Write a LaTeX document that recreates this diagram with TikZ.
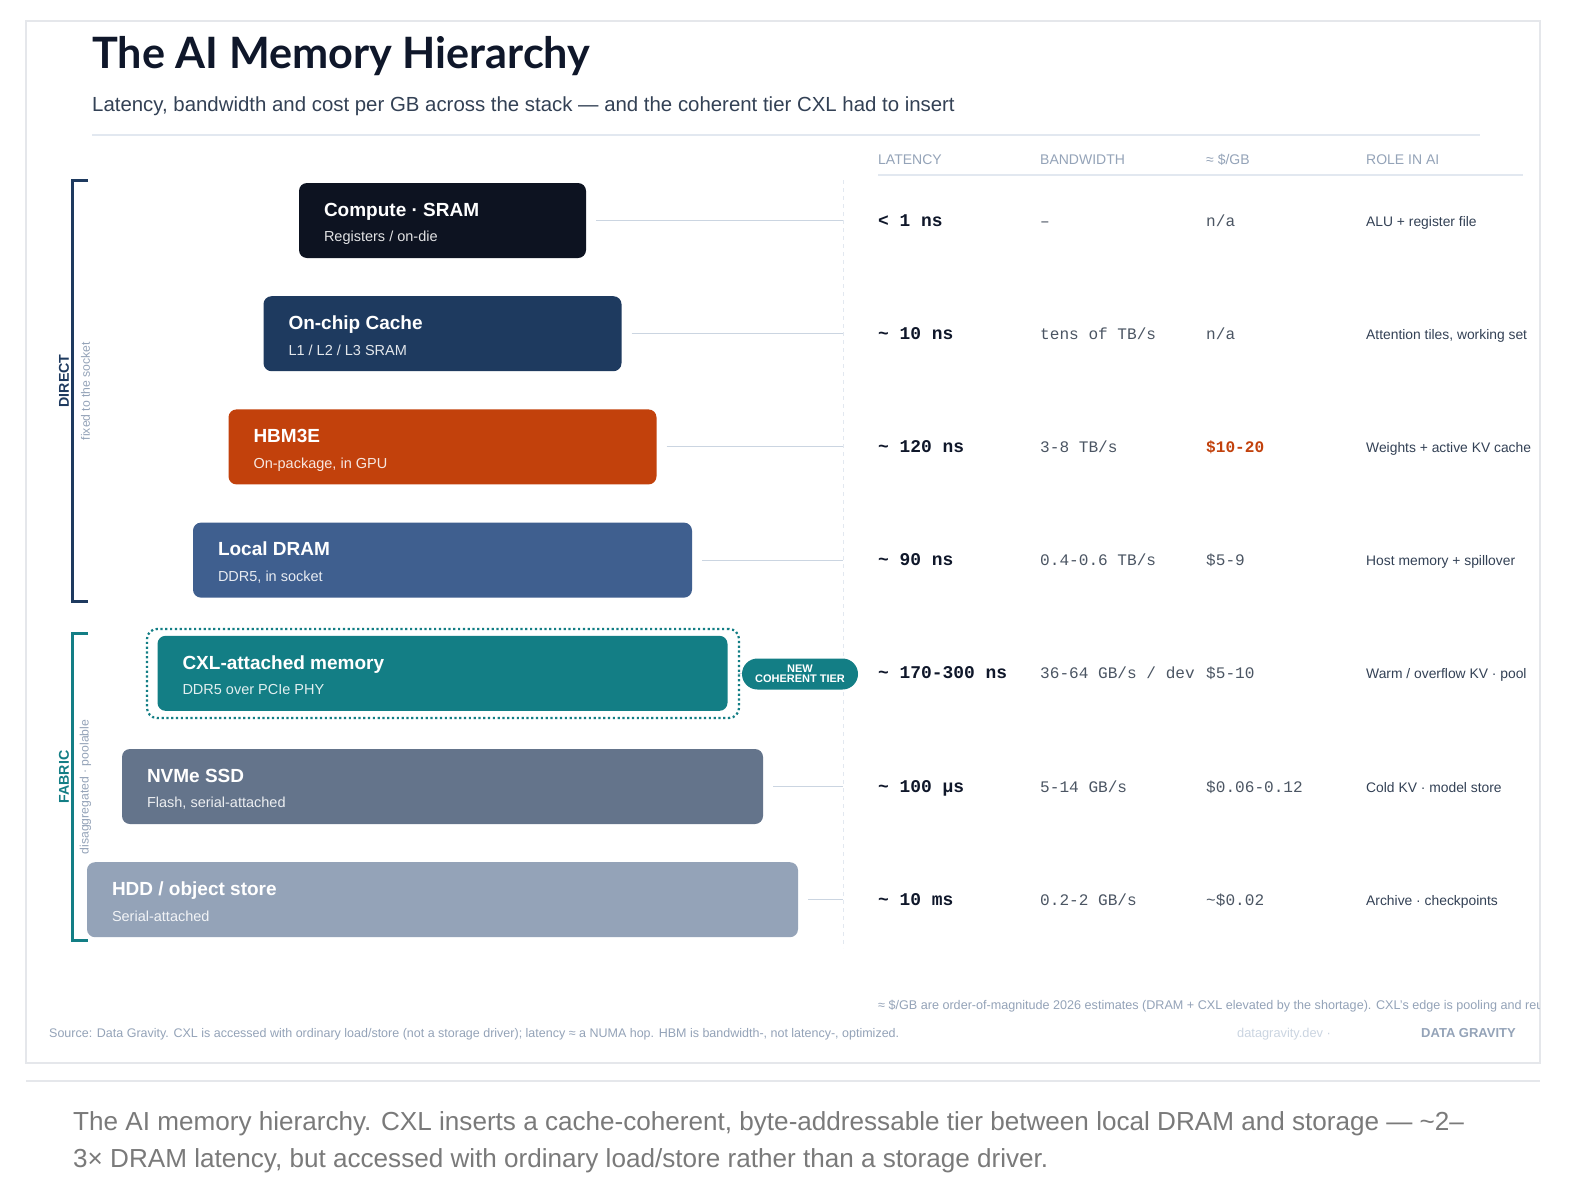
\documentclass[tikz,border=0pt]{standalone}
\usepackage{fontspec}
\setmainfont{Liberation Sans}
\setmonofont{Liberation Mono}
\newfontfamily\latofont{Lato}
\definecolor{cCompute}{HTML}{0D1321}
\definecolor{cCache}{HTML}{1E3A5F}
\definecolor{cHBM}{HTML}{C2410C}
\definecolor{cDRAM}{HTML}{3F5F8F}
\definecolor{cCXL}{HTML}{137E85}
\definecolor{cNVMe}{HTML}{64748B}
\definecolor{cHDD}{HTML}{94A3B8}
\definecolor{ink}{HTML}{0F172A}
\definecolor{slate}{HTML}{334155}
\definecolor{mid}{HTML}{4B5563}
\definecolor{muted}{HTML}{94A3B8}
\definecolor{faint}{HTML}{CBD5E1}
\definecolor{rule}{HTML}{E2E8F0}
\definecolor{card}{HTML}{E5E7EB}
\definecolor{capgray}{HTML}{7A7A7A}
\tikzset{
  tier/.style={rounded corners=8pt, minimum height=75pt, inner sep=0pt, draw=none},
  ttl/.style={anchor=base west, inner sep=0pt, text=white, font=\fontsize{19}{22}\selectfont\bfseries},
  sub/.style={anchor=base west, inner sep=0pt, text=white, text opacity=.88, font=\fontsize{14.5}{17}\selectfont},
  leader/.style={draw=faint, line width=1pt},
  hdr/.style={anchor=mid west, inner sep=0pt, text=muted, font=\fontsize{14}{16}\selectfont},
  lat/.style={anchor=mid west, inner sep=0pt, text=ink, font=\ttfamily\bfseries\fontsize{17.9}{20}\selectfont},
  bw/.style={anchor=mid west, inner sep=0pt, text=mid, font=\ttfamily\fontsize{16.1}{18}\selectfont},
  role/.style={anchor=mid west, inner sep=0pt, text=slate, font=\fontsize{13.85}{16}\selectfont},
  grp/.style={rotate=90, inner sep=0pt, font=\fontsize{14.2}{16}\selectfont\bfseries},
  grpsub/.style={rotate=90, inner sep=0pt, text=muted, font=\fontsize{12.2}{14}\selectfont},
  bracket/.style={line width=3pt},
  foot/.style={inner sep=0pt, text=muted, font=\fontsize{12.5}{14}\selectfont},
}
\begin{document}
\begin{tikzpicture}[x=1pt,y=-1pt]
\useasboundingbox[fill=white] (0,0) rectangle (1572,1194);
\draw[card, line width=1.5pt] (26,21) rectangle (1540,1063);

% title
\node[anchor=base west, inner sep=0pt, text=ink, font=\latofont\bfseries\fontsize{43.2}{48}\selectfont] (title) at (92,68) {The AI Memory Hierarchy};
\node[anchor=base west, inner sep=0pt, text=slate, font=\fontsize{20.4}{23}\selectfont] (subtitle) at (92,111) {Latency, bandwidth and cost per GB across the stack — and the coherent tier CXL had to insert};
\draw[rule, line width=1.5pt] (92,135) -- (1480,135);

% table header
\node[hdr] (hLat) at (878,162) {LATENCY};
\node[hdr] (hBw) at (1040,162) {BANDWIDTH};
\node[hdr] (hCost) at (1206,162) {≈ \$/GB};
\node[hdr] (hRole) at (1366,162) {ROLE IN AI};
\draw[rule, line width=1.5pt] (878,175) -- (1523,175);

% vertical dashed guide
\coordinate (vtop) at (843,180);
\coordinate (vbot) at (843,948);
\draw[rule, dashed, dash pattern=on 4pt off 4pt, line width=1pt] (vtop) -- (vbot);

% tiers
\node[tier, fill=cCompute, minimum width=287pt] (t1) at (442.5,220.5) {};
\node[tier, fill=cCache,   minimum width=358pt] (t2) at (442.5,333.7) {};
\node[tier, fill=cHBM,     minimum width=428pt] (t3) at (442.5,446.9) {};
\node[tier, fill=cDRAM,    minimum width=499pt] (t4) at (442.5,560.1) {};
\node[tier, fill=cCXL,     minimum width=570pt] (t5) at (442.5,673.3) {};
\node[tier, fill=cNVMe,    minimum width=641pt] (t6) at (442.5,786.5) {};
\node[tier, fill=cHDD,     minimum width=711pt] (t7) at (442.5,899.7) {};

\node[ttl] (t1a) at ([xshift=25pt,yshift=-33.5pt]t1.north west) {Compute · SRAM};
\node[sub] (t1b) at ([xshift=25pt,yshift=-59pt]t1.north west) {Registers / on-die};
\node[ttl] (t2a) at ([xshift=25pt,yshift=-33.5pt]t2.north west) {On-chip Cache};
\node[sub] (t2b) at ([xshift=25pt,yshift=-59pt]t2.north west) {L1 / L2 / L3 SRAM};
\node[ttl] (t3a) at ([xshift=25pt,yshift=-33.5pt]t3.north west) {HBM3E};
\node[sub] (t3b) at ([xshift=25pt,yshift=-59pt]t3.north west) {On-package, in GPU};
\node[ttl] (t4a) at ([xshift=25pt,yshift=-33.5pt]t4.north west) {Local DRAM};
\node[sub] (t4b) at ([xshift=25pt,yshift=-59pt]t4.north west) {DDR5, in socket};
\node[ttl] (t5a) at ([xshift=25pt,yshift=-33.5pt]t5.north west) {CXL-attached memory};
\node[sub] (t5b) at ([xshift=25pt,yshift=-59pt]t5.north west) {DDR5 over PCIe PHY};
\node[ttl] (t6a) at ([xshift=25pt,yshift=-33.5pt]t6.north west) {NVMe SSD};
\node[sub] (t6b) at ([xshift=25pt,yshift=-59pt]t6.north west) {Flash, serial-attached};
\node[ttl] (t7a) at ([xshift=25pt,yshift=-33.5pt]t7.north west) {HDD / object store};
\node[sub] (t7b) at ([xshift=25pt,yshift=-59pt]t7.north west) {Serial-attached};

% CXL dotted frame
\node[draw=cCXL, line width=2.2pt, dash pattern=on 2.2pt off 2.6pt, rounded corners=10pt, minimum width=592pt, minimum height=89pt, inner sep=0pt] (cxlframe) at (443,673.5) {};

% leaders
\foreach \t in {t1,t2,t3,t4,t5,t6,t7}{
  \draw[leader] ([xshift=10pt]\t.east) -- (\t.east -| vtop);
}

% badge
\node[fill=cCXL, text=white, rounded corners=15.5pt, minimum width=116pt, minimum height=31pt, inner sep=0pt, align=center, font=\fontsize{11}{10}\selectfont\bfseries] (badge) at (800,674) {NEW\\COHERENT TIER};

% table rows
\node[lat] (l1) at (878,223.5) {< 1 ns};
\node[lat] (l2) at (878,336.7) {\textasciitilde{} 10 ns};
\node[lat] (l3) at (878,449.9) {\textasciitilde{} 120 ns};
\node[lat] (l4) at (878,563.1) {\textasciitilde{} 90 ns};
\node[lat] (l5) at (878,676.3) {\textasciitilde{} 170-300 ns};
\node[lat] (l6) at (878,789.5) {\textasciitilde{} 100 μs};
\node[lat] (l7) at (878,902.7) {\textasciitilde{} 10 ms};

\node[bw] (b1) at (1040,223.5) {–};
\node[bw] (b2) at (1040,336.7) {tens of TB/s};
\node[bw] (b3) at (1040,449.9) {3-8 TB/s};
\node[bw] (b4) at (1040,563.1) {0.4-0.6 TB/s};
\node[bw] (b5) at (1040,676.3) {36-64 GB/s / dev};
\node[bw] (b6) at (1040,789.5) {5-14 GB/s};
\node[bw] (b7) at (1040,902.7) {0.2-2 GB/s};

\node[bw] (c1) at (1206,223.5) {n/a};
\node[bw] (c2) at (1206,336.7) {n/a};
\node[bw, text=cHBM, font=\ttfamily\bfseries\fontsize{16.1}{18}\selectfont] (c3) at (1206,449.9) {\$10-20};
\node[bw] (c4) at (1206,563.1) {\$5-9};
\node[bw] (c5) at (1206,676.3) {\$5-10};
\node[bw] (c6) at (1206,789.5) {\$0.06-0.12};
\node[bw] (c7) at (1206,902.7) {\textasciitilde\$0.02};

\node[role] (r1) at (1366,223.5) {ALU + register file};
\node[role] (r2) at (1366,336.7) {Attention tiles, working set};
\node[role] (r3) at (1366,449.9) {Weights + active KV cache};
\node[role] (r4) at (1366,563.1) {Host memory + spillover};
\node[role] (r5) at (1366,676.3) {Warm / overflow KV · pool};
\node[role] (r6) at (1366,789.5) {Cold KV · model store};
\node[role] (r7) at (1366,902.7) {Archive · checkpoints};

% brackets
\draw[bracket, draw=cCache] (88,180) -- (72,180) -- (72,601) -- (88,601);
\draw[bracket, draw=cCXL] (88,633) -- (72,633) -- (72,940) -- (88,940);
\node[grp, text=cCache] (gDirect) at (64,381) {DIRECT};
\node[grpsub] (gDirectSub) at (85.5,391) {fixed to the socket};
\node[grp, text=cCXL] (gFabric) at (64,777) {FABRIC};
\node[grpsub] (gFabricSub) at (85.5,787) {disaggregated · poolable};

% footer
\begin{scope}
\clip (26,21) rectangle (1539,1063);
\node[foot, anchor=mid west, font=\fontsize{12.6}{14}\selectfont] (note) at (878,1007) {≈ \$/GB are order-of-magnitude 2026 estimates (DRAM + CXL elevated by the shortage). CXL's edge is pooling and reuse};
\end{scope}
\node[foot, anchor=mid west] (source) at (49,1035) {Source: Data Gravity. CXL is accessed with ordinary load/store (not a storage driver); latency ≈ a NUMA hop. HBM is bandwidth-, not latency-, optimized.};
\node[foot, anchor=mid west, text=faint, font=\fontsize{12.8}{14}\selectfont] (site) at (1237,1035) {datagravity.dev ·};
\node[foot, anchor=mid east, font=\fontsize{13}{15}\selectfont\bfseries] (brand) at (1516,1035) {DATA GRAVITY};

% caption
\draw[draw=card, line width=2.5pt] (26,1081) -- (1540,1081);
\node[anchor=base west, inner sep=0pt, text=capgray, font=\fontsize{26.1}{37}\selectfont] (cap1) at (73,1130) {The AI memory hierarchy. CXL inserts a cache-coherent, byte-addressable tier between local DRAM and storage — \textasciitilde2–};
\node[anchor=base west, inner sep=0pt, text=capgray, font=\fontsize{26.1}{37}\selectfont] (cap2) at (73,1167) {3× DRAM latency, but accessed with ordinary load/store rather than a storage driver.};
\end{tikzpicture}
\end{document}
